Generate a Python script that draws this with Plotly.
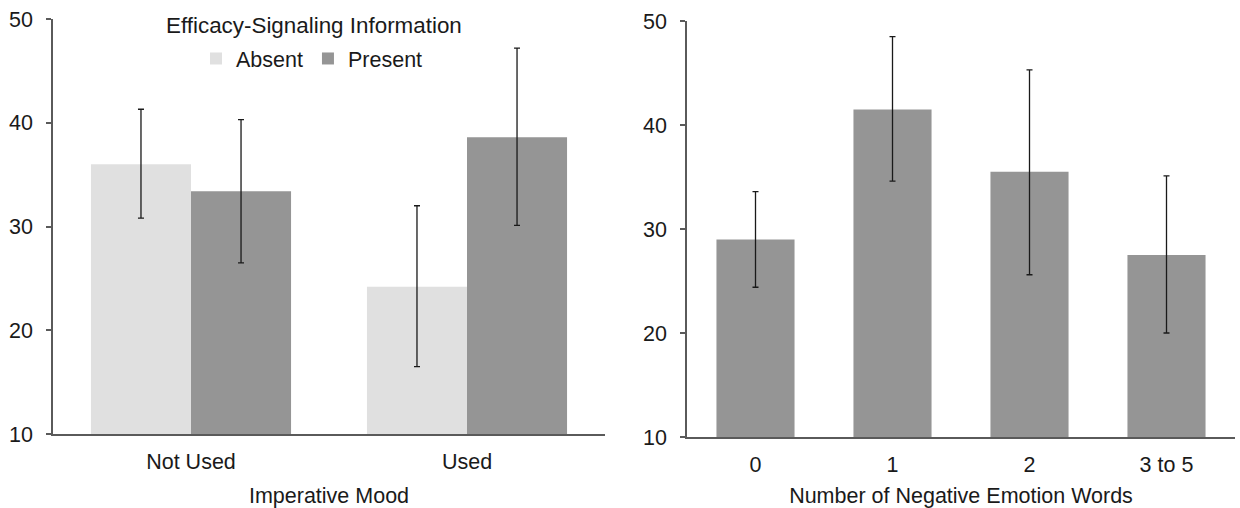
import plotly.graph_objects as go

# Left panel data
mood_categories = ["Not Used", "Used"]
absent_values = [36.0, 24.2]
absent_err_plus = [5.3, 7.8]
absent_err_minus = [5.2, 7.7]
present_values = [33.4, 38.6]
present_err_plus = [6.9, 8.6]
present_err_minus = [6.9, 8.5]

# Right panel data
neg_categories = ["0", "1", "2", "3 to 5"]
neg_values = [29.0, 41.5, 35.5, 27.5]
neg_err_plus = [4.6, 7.0, 9.8, 7.6]
neg_err_minus = [4.6, 6.9, 9.9, 7.5]

y_ticks = [10, 20, 30, 40, 50]

FONT = "Liberation Sans, Arial, sans-serif"
TXT = "#1a1a1a"
FS = 21.5
ERR = dict(type="data", symmetric=False, color="#1a1a1a", thickness=1.3, width=3)

W, H = 1240, 508

fig = go.Figure()
fig.add_trace(go.Bar(
    x=mood_categories, y=absent_values, name="Absent",
    marker=dict(color="#e0e0e0", line=dict(width=0)),
    error_y=dict(ERR, array=absent_err_plus, arrayminus=absent_err_minus),
    xaxis="x", yaxis="y",
))
fig.add_trace(go.Bar(
    x=mood_categories, y=present_values, name="Present",
    marker=dict(color="#959595", line=dict(width=0)),
    error_y=dict(ERR, array=present_err_plus, arrayminus=present_err_minus),
    xaxis="x", yaxis="y",
))
fig.add_trace(go.Bar(
    x=neg_categories, y=neg_values, name="neg", showlegend=False,
    width=0.57,
    marker=dict(color="#959595", line=dict(width=0)),
    error_y=dict(ERR, array=neg_err_plus, arrayminus=neg_err_minus),
    xaxis="x2", yaxis="y2",
))

axis_common = dict(
    showline=True, linecolor="#5a5a5a", linewidth=1.7,
    showgrid=False, zeroline=False, automargin=False,
    tickfont=dict(family=FONT, size=FS, color=TXT),
)
xaxis_common = dict(axis_common, ticks="", ticklabelstandoff=7)
yaxis_common = dict(axis_common, range=[10, 50], tickvals=y_ticks,
                    ticks="outside", ticklen=5, tickcolor="#5a5a5a", tickwidth=1.5,
                    ticklabelstandoff=9)
title_font = dict(family=FONT, size=FS, color=TXT)

fig.update_layout(
    width=W, height=H,
    paper_bgcolor="white", plot_bgcolor="white",
    margin=dict(l=0, r=0, t=0, b=0, autoexpand=False),
    barmode="group", bargap=0.275, bargroupgap=0,
    font=dict(family=FONT, color=TXT),
    xaxis=dict(xaxis_common, domain=[53 / W, 605 / W], anchor="y",
               title=dict(text="Imperative Mood", font=title_font, standoff=15)),
    yaxis=dict(yaxis_common, domain=[(H - 434) / H, (H - 19) / H], anchor="x"),
    xaxis2=dict(xaxis_common, domain=[687 / W, 1235 / W], anchor="y2",
                title=dict(text="Number of Negative Emotion Words", font=title_font, standoff=13)),
    yaxis2=dict(yaxis_common, domain=[(H - 437) / H, (H - 21) / H], anchor="x2"),
    legend=dict(orientation="h", x=312 / W, xanchor="center", y=(H - 38) / H, yanchor="top",
                font=dict(family=FONT, size=FS, color=TXT),
                bgcolor="rgba(0,0,0,0)", itemwidth=30, traceorder="normal"),
    annotations=[dict(text="Efficacy-Signaling Information", x=314 / W, xref="paper",
                      y=(H - 25) / H, yref="paper", xanchor="center", yanchor="middle",
                      showarrow=False, font=dict(family=FONT, size=22.4, color=TXT))],
)

fig.write_html("out.html", config={"displayModeBar": False},
               post_script="document.body.style.margin='0';")
